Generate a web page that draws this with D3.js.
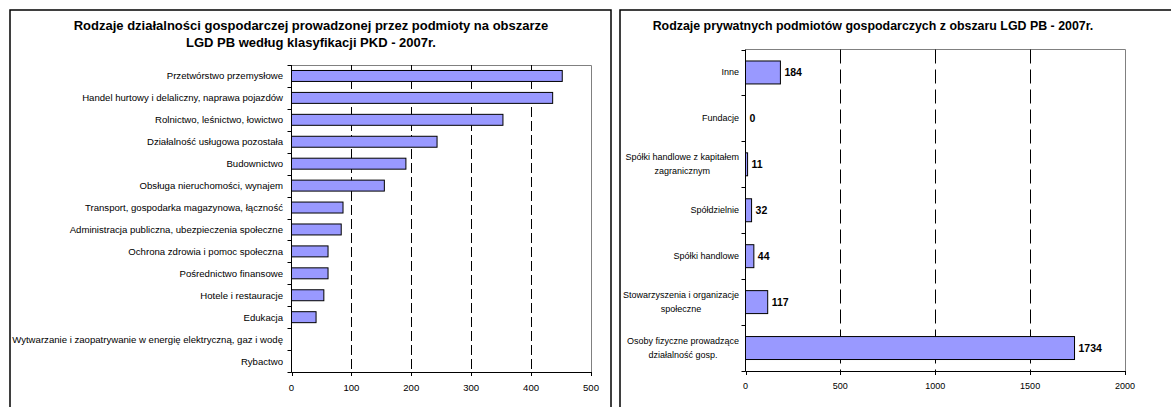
<!DOCTYPE html>
<html><head><meta charset="utf-8">
<script src="https://cdn.jsdelivr.net/npm/d3@7"></script>
<style>
body{margin:0;background:#fff;}
svg{display:block;font-family:"Liberation Sans",Arial,sans-serif;}
</style></head>
<body><svg id="c" width="1171" height="407"></svg>
<script>
// ---- Left chart data ----
const leftTitle = ["Rodzaje działalności gospodarczej prowadzonej przez podmioty na obszarze",
                   "LGD PB według klasyfikacji PKD - 2007r."];
const leftCategories = ["Przetwórstwo przemysłowe","Handel hurtowy i delaliczny, naprawa pojazdów",
  "Rolnictwo, leśnictwo, łowictwo","Działalność usługowa pozostała","Budownictwo",
  "Obsługa nieruchomości, wynajem","Transport, gospodarka magazynowa, łączność",
  "Administracja publiczna, ubezpieczenia społeczne","Ochrona zdrowia i pomoc społeczna",
  "Pośrednictwo finansowe","Hotele i restauracje","Edukacja",
  "Wytwarzanie i zaopatrywanie w energię elektryczną, gaz i wodę","Rybactwo"];
const leftValues = [452,436,353,243,191,155,86,83,61,61,54,41,0,0];
const leftTicks = [0,100,200,300,400,500];

// ---- Right chart data ----
const rightTitle = "Rodzaje prywatnych podmiotów gospodarczych z obszaru LGD PB - 2007r.";
const rightCategories = [["Inne"],["Fundacje"],["Spółki handlowe z kapitałem","zagranicznym"],
  ["Spółdzielnie"],["Spółki handlowe"],["Stowarzyszenia i organizacje","społeczne"],
  ["Osoby fizyczne prowadzące","działalność gosp."]];
const rightValues = [184,0,11,32,44,117,1734];
const rightTicks = [0,500,1000,1500,2000];

const svg = d3.select("#c");
const barFill = "#9999FF";

// panel frames
svg.append("rect").attr("x",10).attr("y",10).attr("width",601).attr("height",420)
  .attr("fill","none").attr("stroke","#000").attr("stroke-width",1.5);
svg.append("rect").attr("x",620).attr("y",10).attr("width",600).attr("height",420)
  .attr("fill","none").attr("stroke","#000").attr("stroke-width",1.5);

// ================= LEFT =================
(function(){
  const g = svg.append("g");
  const x = d3.scaleLinear().domain([0,500]).range([291.5,591]);
  const top = 65, bot = 372;
  const y = d3.scaleBand().domain(leftCategories).range([top,bot]).paddingInner(0.5).paddingOuter(0.25);
  g.selectAll("text.title").data(leftTitle).join("text")
    .attr("x",311).attr("y",(d,i)=>29.5+i*17.5).attr("text-anchor","middle")
    .attr("font-weight","bold").attr("font-size","13px").text(d=>d);
  g.append("path").attr("d",`M${x(0)},${top+0.5}H${x(500)+0.5}V${bot}`)
    .attr("fill","none").attr("stroke","#808080").attr("stroke-width",1);
  g.selectAll("line.grid").data(leftTicks.slice(1,-1)).join("line")
    .attr("x1",d=>Math.round(x(d))+0.5).attr("x2",d=>Math.round(x(d))+0.5)
    .attr("y1",top).attr("y2",bot).attr("stroke","#000").attr("stroke-width",1)
    .attr("stroke-dasharray","10,4");
  g.selectAll("rect.bar").data(leftValues).join("rect")
    .attr("x",x(0)).attr("y",(d,i)=>y(leftCategories[i]))
    .attr("width",d=>x(d)-x(0)).attr("height",y.bandwidth())
    .attr("fill",barFill).attr("stroke","#000").attr("stroke-width",1)
    .style("display",d=>d>0?null:"none");
  const stepL = (bot-top)/leftCategories.length;
  const bounds = d3.range(leftCategories.length+1).map(i=>top+i*stepL);
  g.append("line").attr("x1",x(0)).attr("x2",x(0)).attr("y1",top).attr("y2",bot+0.5).attr("stroke","#000");
  g.selectAll("line.yt").data(bounds).join("line")
    .attr("x1",x(0)-4).attr("x2",x(0)).attr("y1",d=>Math.round(d)+0.5).attr("y2",d=>Math.round(d)+0.5).attr("stroke","#000");
  g.selectAll("text.cat").data(leftCategories).join("text")
    .attr("x",283).attr("y",d=>y(d)+y.bandwidth()/2+3.5).attr("text-anchor","end")
    .attr("font-size","9.6px").attr("fill","#000").text(d=>d);
  g.append("line").attr("x1",x(0)).attr("x2",x(500)+0.5).attr("y1",bot+0.5).attr("y2",bot+0.5).attr("stroke","#000");
  g.selectAll("line.xt").data(leftTicks).join("line")
    .attr("x1",d=>Math.round(x(d))+0.5).attr("x2",d=>Math.round(x(d))+0.5)
    .attr("y1",bot).attr("y2",bot+4).attr("stroke","#000");
  g.selectAll("text.xl").data(leftTicks).join("text")
    .attr("x",d=>x(d)).attr("y",390.5).attr("text-anchor","middle")
    .attr("font-size","9.6px").text(d=>d);
})();

// ================= RIGHT =================
(function(){
  const g = svg.append("g");
  const x = d3.scaleLinear().domain([0,2000]).range([745.5,1125]);
  const names = rightCategories.map(d=>d.join(" "));
  const top = 49.5, bot = 371;
  const y = d3.scaleBand().domain(names).range([top,bot]).paddingInner(0.5).paddingOuter(0.25);
  g.append("text").attr("x",873).attr("y",30).attr("text-anchor","middle")
    .attr("font-weight","bold").attr("font-size","12.4px").text(rightTitle);
  g.append("path").attr("d",`M${x(0)},${top}H${x(2000)+0.5}V${bot}`)
    .attr("fill","none").attr("stroke","#808080").attr("stroke-width",1);
  g.selectAll("line.grid").data(rightTicks.slice(1,-1)).join("line")
    .attr("x1",d=>Math.round(x(d))+0.5).attr("x2",d=>Math.round(x(d))+0.5)
    .attr("y1",top).attr("y2",bot).attr("stroke","#000").attr("stroke-width",1)
    .attr("stroke-dasharray","14,6");
  g.selectAll("rect.bar").data(rightValues).join("rect")
    .attr("x",x(0)).attr("y",(d,i)=>y(names[i]))
    .attr("width",d=>x(d)-x(0)).attr("height",y.bandwidth())
    .attr("fill",barFill).attr("stroke","#000").attr("stroke-width",1)
    .style("display",d=>d>0?null:"none");
  g.selectAll("text.val").data(rightValues).join("text")
    .attr("x",d=>x(d)+4).attr("y",(d,i)=>y(names[i])+y.bandwidth()/2+4)
    .attr("font-weight","bold").attr("font-size","10.5px").text(d=>d);
  const stepR = (bot-top)/names.length;
  const bounds = d3.range(names.length+1).map(i=>top+i*stepR);
  g.append("line").attr("x1",x(0)).attr("x2",x(0)).attr("y1",top).attr("y2",bot+0.5).attr("stroke","#000");
  g.selectAll("line.yt").data(bounds).join("line")
    .attr("x1",x(0)-4).attr("x2",x(0)).attr("y1",d=>Math.round(d)+0.5).attr("y2",d=>Math.round(d)+0.5).attr("stroke","#000");
  const labels = g.selectAll("g.cat").data(rightCategories).join("g")
    .attr("transform",(d,i)=>`translate(0,${y(names[i])+y.bandwidth()/2})`);
  labels.each(function(lines){
    const gg = d3.select(this);
    const ts = gg.selectAll("text").data(lines).join("text")
      .attr("font-size","9px").attr("text-anchor","middle")
      .attr("y",(d,i)=>3+(i-(lines.length-1)/2)*14).text(d=>d);
    let w = 0; ts.each(function(){ w = Math.max(w,this.getComputedTextLength()); });
    ts.attr("x",739 - w/2);
  });
  g.append("line").attr("x1",x(0)).attr("x2",x(2000)+0.5).attr("y1",bot+0.5).attr("y2",bot+0.5).attr("stroke","#000");
  g.selectAll("line.xt").data(rightTicks).join("line")
    .attr("x1",d=>Math.round(x(d))+0.5).attr("x2",d=>Math.round(x(d))+0.5)
    .attr("y1",bot).attr("y2",bot+4).attr("stroke","#000");
  g.selectAll("text.xl").data(rightTicks).join("text")
    .attr("x",d=>x(d)).attr("y",388.5).attr("text-anchor","middle")
    .attr("font-size","9px").text(d=>d);
})();
</script></body></html>
